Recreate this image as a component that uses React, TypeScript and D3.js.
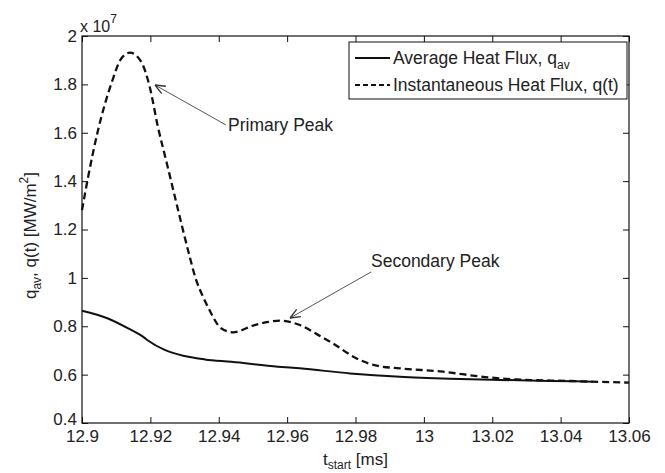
import React, { useRef, useEffect } from "react";
import * as d3 from "d3";

const width = 665;
const height = 473;
const margin = { top: 36, right: 36, bottom: 50, left: 82 };
const plotW = width - margin.left - margin.right;
const plotH = height - margin.top - margin.bottom;
const font = "'Liberation Sans', Arial, Helvetica, sans-serif";

// axis ticks
const xTicks = [12.9, 12.92, 12.94, 12.96, 12.98, 13.0, 13.02, 13.04, 13.06];
const xTickLabels = ["12.9", "12.92", "12.94", "12.96", "12.98", "13", "13.02", "13.04", "13.06"];
const yTicks = [0.4, 0.6, 0.8, 1.0, 1.2, 1.4, 1.6, 1.8, 2.0];
const yTickLabels = ["0.4", "0.6", "0.8", "1", "1.2", "1.4", "1.6", "1.8", "2"];

// instantaneous heat flux q(t), x 10^7
const instTime = [
    12.9, 12.9018, 12.9047, 12.9086, 12.9115, 12.914, 12.9173, 12.9198, 12.9222,
    12.9247, 12.9281, 12.931, 12.9334, 12.9354, 12.9368, 12.9407, 12.9442, 12.9505,
    12.9545, 12.958, 12.9637, 12.9696, 12.9735, 12.9803, 12.9862, 12.993, 13.0056,
    13.0173, 13.0271, 13.0417, 13.06,
];
const instFlux = [
    1.28, 1.418, 1.611, 1.804, 1.907, 1.931, 1.894, 1.79, 1.625,
    1.48, 1.281, 1.115, 0.991, 0.922, 0.881, 0.792, 0.775, 0.805,
    0.818, 0.823, 0.805, 0.76, 0.728, 0.667, 0.637, 0.626, 0.612,
    0.591, 0.58, 0.574, 0.567,
];

// average heat flux q_av, x 10^7
const avgTime = [
    12.9, 12.9076, 12.9135, 12.9183, 12.9193, 12.9242, 12.93, 12.9359, 12.9437,
    12.9573, 12.9637, 12.9784, 12.993, 13.0076, 13.0222, 13.0368, 13.0495,
];
const avgFlux = [
    0.864, 0.832, 0.791, 0.752, 0.741, 0.702, 0.677, 0.663, 0.653,
    0.633, 0.626, 0.605, 0.591, 0.583, 0.578, 0.574, 0.571,
];

const App = () => {
    const canvas = useRef<SVGSVGElement | null>(null);

    useEffect(() => {
        const svg = d3.select(canvas.current);
        svg.selectAll("*").remove();

        const x = d3.scaleLinear().domain([12.9, 13.06]).range([0, plotW]);
        const y = d3.scaleLinear().domain([0.4, 2]).range([plotH, 0]);

        const g = svg
            .append("g")
            .attr("transform", `translate(${margin.left},${margin.top})`);

        // axes, ticks pointing inward like matlab
        const styleAxis = (sel) => {
            sel.select(".domain").remove();
            sel.selectAll("line").attr("stroke", "#111").attr("stroke-width", 1);
            sel.selectAll("text")
                .attr("fill", "#222")
                .style("font-family", font)
                .style("font-size", "17px");
        };

        g.append("g")
            .attr("transform", `translate(0,${plotH})`)
            .call(
                d3.axisBottom(x).tickValues(xTicks).tickSizeInner(-6).tickSizeOuter(0)
                    .tickPadding(7).tickFormat((d, i) => xTickLabels[i])
            )
            .call(styleAxis);
        g.append("g")
            .call(
                d3.axisTop(x).tickValues(xTicks).tickSizeInner(-6).tickSizeOuter(0)
                    .tickFormat(() => "")
            )
            .call(styleAxis);
        const yAxisGroup = g.append("g")
            .call(
                d3.axisLeft(y).tickValues(yTicks).tickSizeInner(-6).tickSizeOuter(0)
                    .tickPadding(5).tickFormat((d, i) => yTickLabels[i])
            )
            .call(styleAxis);
        // lowest label sits a bit higher so it clears 12.9
        yAxisGroup.selectAll("text").filter((d) => d === 0.4).attr("y", -4);
        g.append("g")
            .attr("transform", `translate(${plotW},0)`)
            .call(
                d3.axisRight(y).tickValues(yTicks).tickSizeInner(-6).tickSizeOuter(0)
                    .tickFormat(() => "")
            )
            .call(styleAxis);

        g.append("rect")
            .attr("width", plotW)
            .attr("height", plotH)
            .attr("fill", "none")
            .attr("stroke", "#111")
            .attr("stroke-width", 1.2);

        // curves
        const line = d3
            .line<number>()
            .curve(d3.curveMonotoneX);

        g.append("path")
            .attr("d", line(avgTime.map((t, i) => [x(t), y(avgFlux[i])])))
            .attr("fill", "none")
            .attr("stroke", "#111")
            .attr("stroke-width", 2);

        g.append("path")
            .attr("d", line(instTime.map((t, i) => [x(t), y(instFlux[i])])))
            .attr("fill", "none")
            .attr("stroke", "#111")
            .attr("stroke-width", 2.3)
            .attr("stroke-dasharray", "7,4");

        // annotations
        const arrow = (x1, y1, x2, y2) => {
            g.append("line")
                .attr("x1", x1).attr("y1", y1)
                .attr("x2", x2).attr("y2", y2)
                .attr("stroke", "#555")
                .attr("stroke-width", 1);
            const ang = Math.atan2(y1 - y2, x1 - x2);
            [-0.4, 0.4].forEach((da) => {
                g.append("line")
                    .attr("x1", x2).attr("y1", y2)
                    .attr("x2", x2 + 11 * Math.cos(ang + da))
                    .attr("y2", y2 + 11 * Math.sin(ang + da))
                    .attr("stroke", "#333")
                    .attr("stroke-width", 1.3);
            });
        };
        arrow(226 - margin.left, 125 - margin.top, 155 - margin.left, 85 - margin.top);
        arrow(371 - margin.left, 272 - margin.top, 290 - margin.left, 318 - margin.top);

        g.append("text")
            .attr("x", 228 - margin.left)
            .attr("y", 131 - margin.top)
            .attr("fill", "#222")
            .style("font-family", font)
            .style("font-size", "17.5px")
            .text("Primary Peak");
        g.append("text")
            .attr("x", 371 - margin.left)
            .attr("y", 267 - margin.top)
            .attr("fill", "#222")
            .style("font-family", font)
            .style("font-size", "17.5px")
            .text("Secondary Peak");

        // legend
        const lg = svg.append("g").attr("transform", "translate(349,42)");
        lg.append("rect")
            .attr("width", 278)
            .attr("height", 57)
            .attr("fill", "#fff")
            .attr("stroke", "#111")
            .attr("stroke-width", 1);
        lg.append("line")
            .attr("x1", 6).attr("x2", 41).attr("y1", 16).attr("y2", 16)
            .attr("stroke", "#111").attr("stroke-width", 2);
        lg.append("line")
            .attr("x1", 6).attr("x2", 41).attr("y1", 43).attr("y2", 43)
            .attr("stroke", "#111").attr("stroke-width", 2)
            .attr("stroke-dasharray", "5,3");
        const t1 = lg.append("text")
            .attr("x", 44).attr("y", 22)
            .attr("fill", "#222")
            .style("font-family", font)
            .style("font-size", "17.5px");
        t1.append("tspan").text("Average Heat Flux, q");
        t1.append("tspan").attr("dy", 5).style("font-size", "12px").text("av");
        lg.append("text")
            .attr("x", 44).attr("y", 49)
            .attr("fill", "#222")
            .style("font-family", font)
            .style("font-size", "17.5px")
            .text("Instantaneous Heat Flux, q(t)");

        // exponent
        const ex = svg.append("text")
            .attr("x", 80).attr("y", 32)
            .attr("fill", "#222")
            .style("font-family", font)
            .style("font-size", "16px");
        ex.append("tspan").text("x 10");
        ex.append("tspan").attr("dy", -9).style("font-size", "12px").text("7");

        // x label
        const xl = svg.append("text")
            .attr("x", margin.left + plotW / 2)
            .attr("y", 465)
            .attr("text-anchor", "middle")
            .attr("fill", "#222")
            .style("font-family", font)
            .style("font-size", "17px");
        xl.append("tspan").text("t");
        xl.append("tspan").attr("dy", 4).style("font-size", "12px").text("start");
        xl.append("tspan").attr("dy", -4).text(" [ms]");

        // y label
        const yl = svg.append("text")
            .attr("transform", `translate(36,${margin.top + plotH / 2 + 6}) rotate(-90)`)
            .attr("text-anchor", "middle")
            .attr("fill", "#222")
            .style("font-family", font)
            .style("font-size", "17px");
        yl.append("tspan").text("q");
        yl.append("tspan").attr("dy", 5).style("font-size", "12px").text("av");
        yl.append("tspan").attr("dy", -5).text(", q(t) [MW/m");
        yl.append("tspan").attr("dy", -8).style("font-size", "12px").text("2");
        yl.append("tspan").attr("dy", 8).text("]");
    }, []);

    return (
        <svg
            ref={canvas}
            width={width}
            height={height}
            style={{ position: "absolute", left: 0, top: 0, background: "#fff" }}
        />
    );
};

export default App;
